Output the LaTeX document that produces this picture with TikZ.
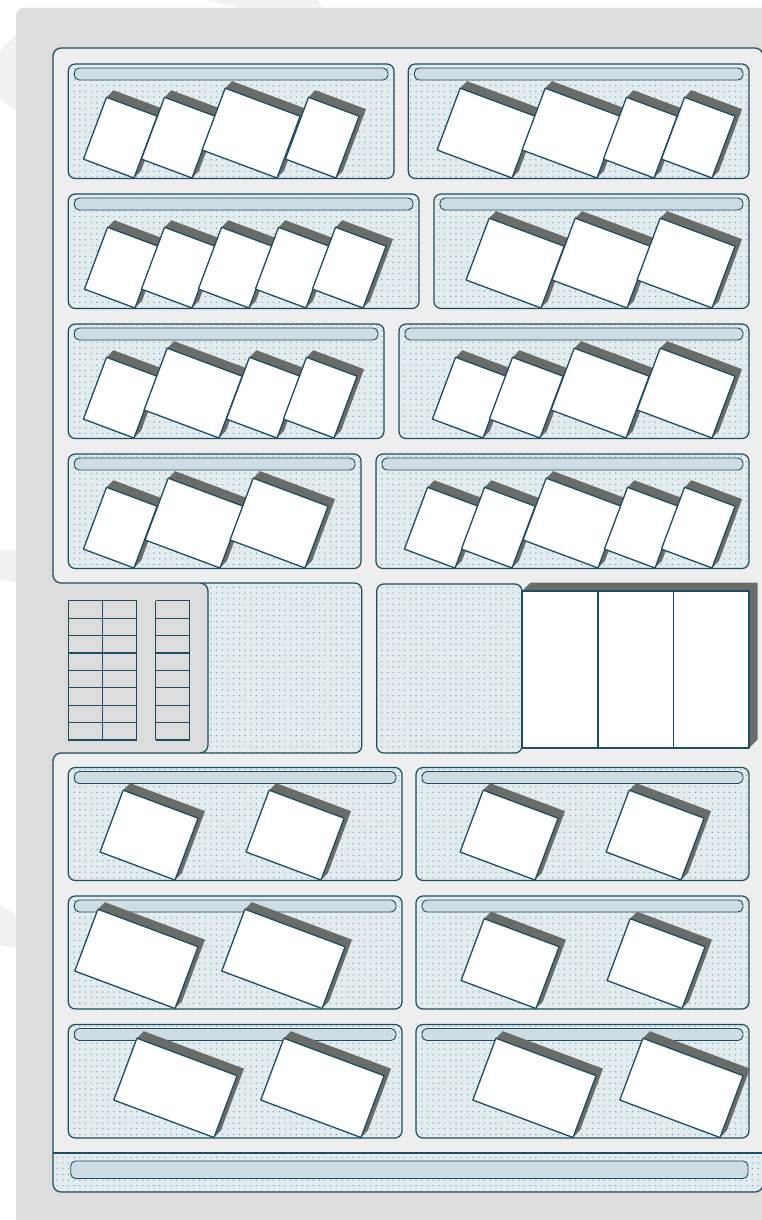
\documentclass[tikz,border=0pt]{standalone}
\usetikzlibrary{patterns.meta}
\definecolor{bgg}{HTML}{DCDCDC}
\definecolor{pang}{HTML}{EEEEEE}
\definecolor{tealc}{HTML}{1D4D5E}
\definecolor{dotbg}{HTML}{E2ECEF}
\definecolor{dotc}{HTML}{7A9EAF}
\definecolor{hdrc}{HTML}{CEDDE3}
\definecolor{shadc}{HTML}{6A6C6A}
\definecolor{wmk}{HTML}{F1F1F1}
\tikzset{
  subpanel/.style={preaction={fill=dotbg}, pattern={Dots[distance=5.7pt,radius=0.7pt]}, pattern color=dotc, draw=tealc, line width=1.2pt, rounded corners=7},
  dotfill/.style={preaction={fill=dotbg}, pattern={Dots[distance=5.7pt,radius=0.7pt]}, pattern color=dotc},
  hdrbar/.style={draw=tealc, line width=0.9pt, fill=hdrc, rounded corners=5},
  cardline/.style={draw=tealc, line width=1.3pt, line join=round},
  panelline/.style={draw=tealc, line width=1.3pt},
  tblline/.style={draw=tealc, line width=1.2pt},
}
\newcommand\subp[4]{\path[subpanel] (#1,#2) rectangle (#3,#4); \path[hdrbar] (#1+6,#2+4) rectangle (#3-6,#2+16);}
\newcommand\crd[3]{\begin{scope}[shift={(#1,#2)},x=1pt,y=1pt,rotate=-20.5]
 \fill[shadc] (-#3,66) -- (-#3+4,75) -- (4,75) -- (4,9) -- (0,0) -- (-#3,0) -- cycle;
 \path[cardline,fill=white] (-#3,0) rectangle (0,66);
 \end{scope}}
\def\bigpath{(400,48) -- (53,48) -- (53,583) -- (208,583) -- (208,753) -- (53,753) -- (53,1192) -- (763,1192) -- (763,48) -- cycle}
\begin{document}
\begin{tikzpicture}[x=1pt,y=-1pt]
\useasboundingbox (0,0) rectangle (761,1220);
\fill[white] (0,0) rectangle (761,1220);
% faint watermark
\fill[wmk] (208,0) -- (318,0) -- (322,8) -- (238,8) -- cycle;
\fill[wmk] (0,50) -- (16,35) -- (16,110) -- (0,100) -- cycle;
\fill[wmk] (0,550) -- (16,550) -- (16,582) -- (0,580) -- cycle;
\fill[wmk] (0,905) -- (16,915) -- (16,948) -- (0,945) -- cycle;
% outer gray
\fill[bgg, rounded corners=8] (16,8) rectangle (790,1250);
% big panel
\fill[pang, rounded corners=8] \bigpath;
% top rows
\subp{68.3}{64}{394}{178.5}
\crd{134}{178}{54}\crd{192}{178}{54}\crd{277}{178}{80}\crd{336}{178}{54}
\subp{408.3}{64}{749}{178.5}
\crd{512}{178}{80}\crd{597}{178}{80}\crd{654}{178}{54}\crd{712}{178}{54}
\subp{68.3}{194}{419}{308.5}
\crd{135}{308}{54}\crd{192}{308}{54}\crd{249}{308}{54}\crd{306}{308}{54}\crd{363}{308}{54}
\subp{434}{194}{749}{308.5}
\crd{541}{308}{80}\crd{627}{308}{80}\crd{712}{308}{80}
\subp{68.3}{324}{384}{438.5}
\crd{134}{438}{54}\crd{219}{438}{80}\crd{277}{438}{54}\crd{334}{438}{54}
\subp{399}{324}{749}{438.5}
\crd{483}{438}{54}\crd{540}{438}{54}\crd{626}{438}{80}\crd{712}{438}{80}
\subp{68.3}{454}{361}{568.5}
\crd{134}{568}{54}\crd{220}{568}{80}\crd{305}{568}{80}
\subp{376}{454}{749}{568.5}
\crd{455}{568}{54}\crd{512}{568}{54}\crd{598}{568}{80}\crd{655}{568}{54}\crd{712}{568}{54}
% lower rows
\subp{68.3}{767.5}{402}{880.5}
\crd{175}{880}{80}\crd{321}{880}{80}
\subp{416}{767.5}{749}{880.5}
\crd{535}{880}{80}\crd{681}{880}{80}
\subp{68.3}{896}{402}{1009}
\crd{175}{1008.5}{107}\crd{322}{1008.5}{107}
\subp{416}{896}{749}{1009}
\crd{536}{1008.5}{80}\crd{682}{1008.5}{80}
\subp{68.3}{1024.5}{402}{1138}
\crd{214}{1137.5}{107}\crd{361}{1137.5}{107}
\subp{416}{1024.5}{749}{1138}
\crd{573}{1137.5}{107}\crd{720}{1137.5}{107}
% bottom strip
\begin{scope}
\clip[rounded corners=8] \bigpath;
\path[dotfill] (40,1153) rectangle (770,1200);
\end{scope}
\draw[panelline] (53,1153) -- (763,1153);
\path[hdrbar] (70.7,1161) rectangle (748,1178.5);
% middle band
\path[subpanel] (196,583) rectangle (361.7,753);
\path[subpanel] (376.7,584) rectangle (522,753);
\fill[bgg, rounded corners=8] (30,583) -- (208,583) -- (208,753) -- (30,753) -- cycle;
% tables
\foreach \i in {0,...,8} {
  \draw[tblline] (68.3,600.7+\i*17.41) -- (136.7,600.7+\i*17.41);
  \draw[tblline] (155.7,600.7+\i*17.41) -- (189.7,600.7+\i*17.41);
}
\draw[tblline] (68.3,600.7) -- (68.3,740) (102.7,600.7) -- (102.7,740) (136.7,600.7) -- (136.7,740);
\draw[tblline] (155.7,600.7) -- (155.7,740) (189.7,600.7) -- (189.7,740);
% white box
\fill[shadc] (522,591) -- (530.5,582.5) -- (757.5,582.5) -- (757.5,739.5) -- (749,748) -- (749,591) -- cycle;
\path[cardline,fill=white] (522,591) rectangle (749,748);
\draw[cardline] (598,591) -- (598,748) (673.5,591) -- (673.5,748);
% big panel outline
\draw[panelline, rounded corners=8] \bigpath;
\end{tikzpicture}
\end{document}
